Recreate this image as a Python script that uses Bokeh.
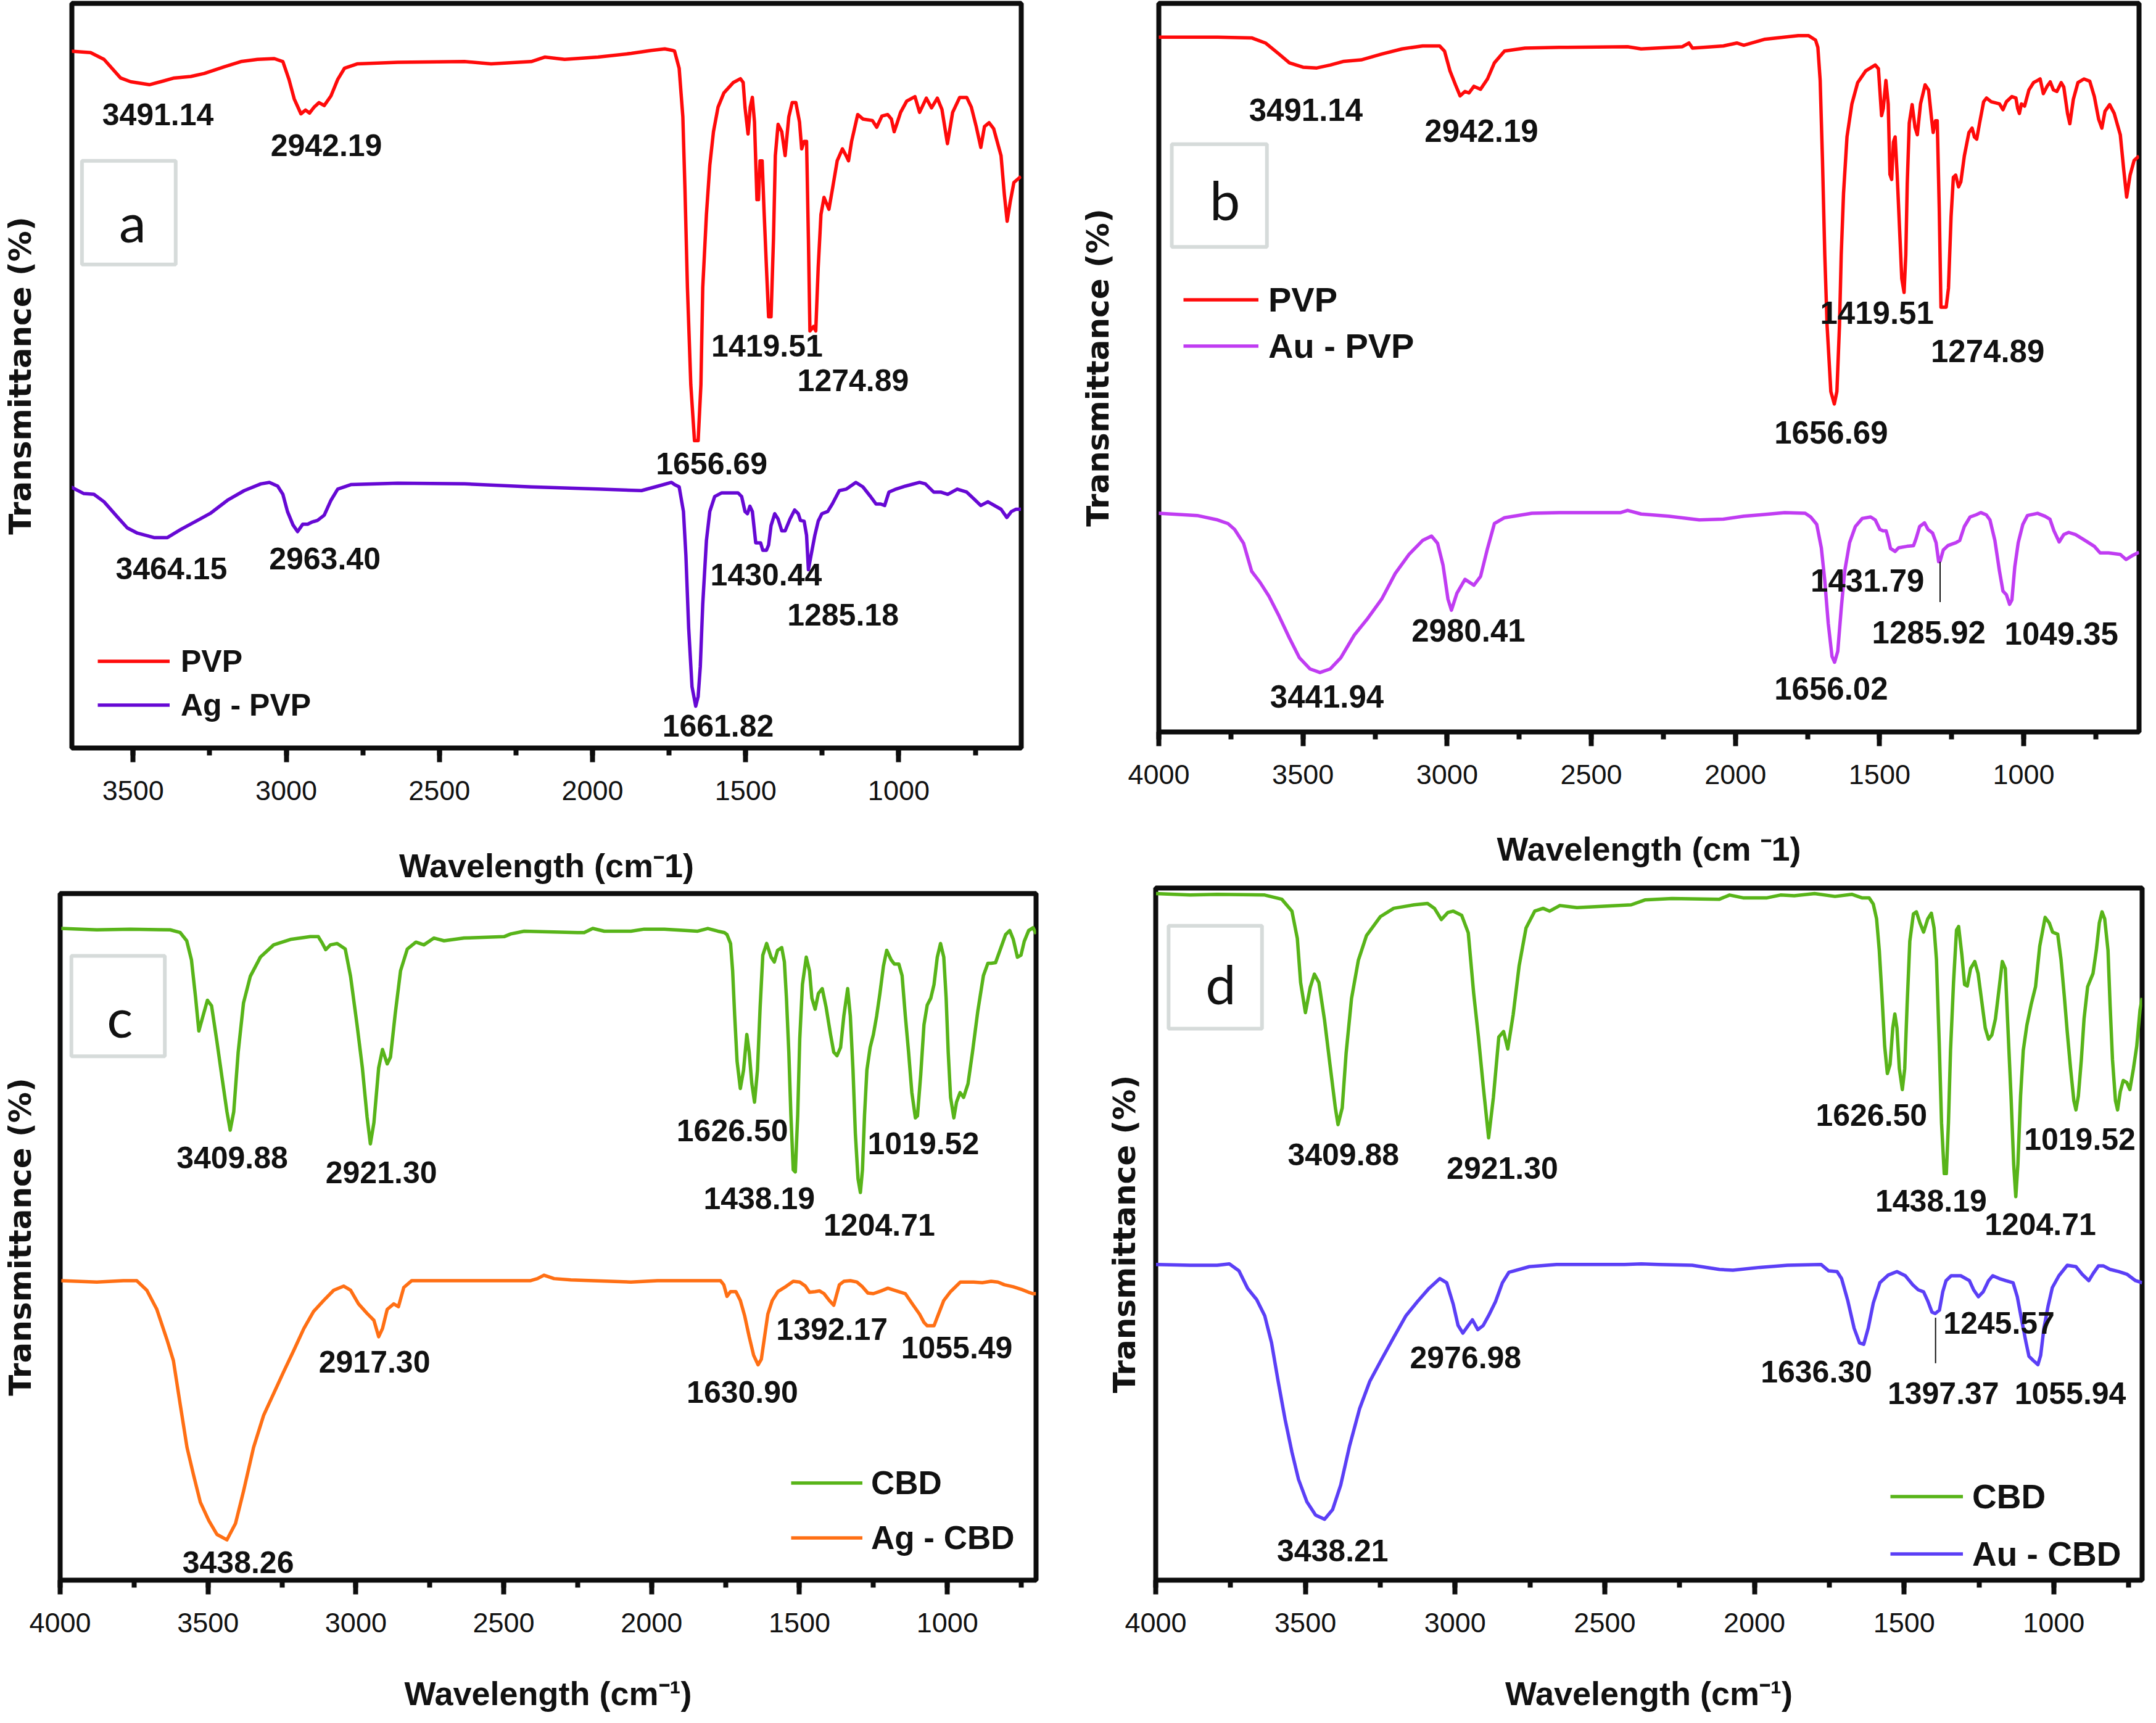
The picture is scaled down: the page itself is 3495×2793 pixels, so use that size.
from bokeh.plotting import figure
from bokeh.models import (Range1d, SingleIntervalTicker, FixedTicker, Legend,
                          LegendItem, ColumnDataSource)
from bokeh.layouts import column, row
from bokeh.embed import file_html
from bokeh.resources import INLINE
from bokeh.core.properties import value

# ---------------- data (wavenumber cm-1, transmittance a.u. in % of panel height) ----------------
PVP_A = [(3704,93.4),(3639,93.2),(3595,92.3),(3541,89.8),(3508,89.3),(3447,88.9),(3410,89.3),(3366,89.8),(3312,90.0),(3268,90.4),(3203,91.3),(3148,92.0),(3094,92.3),(3039,92.4),(3011,92.0),(2991,89.6),(2974,87.0),(2952,85.0),(2937,85.5),(2924,85.1),(2909,85.9),(2893,86.5),(2876,86.1),(2854,87.4),(2832,89.6),(2810,91.1),(2767,91.7),(2636,91.9),(2418,92.0),(2331,91.7),(2200,92.0),(2156,92.6),(2091,92.3),(1982,92.6),(1873,93.1),(1808,93.5),(1764,93.7),(1738,93.5),(1732,93.4),(1717,91.1),(1705,84.6),(1698,74.8),(1690,61.7),(1679,48.7),(1667,41.2),(1655,41.2),(1646,48.7),(1640,61.7),(1628,71.5),(1617,78.1),(1605,82.6),(1590,85.9),(1571,87.8),(1540,89.2),(1517,89.7),(1508,89.2),(1502,85.9),(1492,82.3),(1485,85.9),(1478,87.2),(1471,83.9),(1463,73.5),(1458,73.5),(1453,78.7),(1446,78.7),(1440,72.2),(1432,64.4),(1425,57.8),(1417,57.8),(1409,68.3),(1403,79.4),(1394,83.6),(1382,82.6),(1371,79.4),(1359,84.6),(1348,86.5),(1336,86.5),(1324,83.9),(1317,80.3),(1309,81.3),(1301,81.3),(1295,68.3),(1290,55.9),(1278,56.5),(1271,55.9),(1263,64.4),(1254,71.5),(1244,73.8),(1228,72.2),(1217,74.8),(1201,78.7),(1184,80.3),(1172,79.4),(1164,78.7),(1154,81.3),(1134,84.9),(1117,84.3),(1086,84.1),(1072,83.2),(1055,84.7),(1036,84.9),(1024,84.3),(1015,82.6),(1005,83.8),(994,85.2),(974,86.7),(947,87.3),(932,85.2),(910,87.1),(893,85.8),(874,87.1),(859,85.6),(841,81.0),(824,85.2),(801,87.2),(778,87.2),(763,85.9),(747,83.3),(732,80.5),(720,83.3),(705,83.8),(690,83.0),(666,79.4),(655,74.1),(646,70.6),(636,73.2),(624,75.8),(601,76.6)]

AG_PVP = [(3704,35.0),(3661,34.1),(3628,34.0),(3595,33.0),(3552,31.0),(3519,29.5),(3486,28.8),(3432,28.2),(3388,28.2),(3344,29.3),(3290,30.5),(3246,31.5),(3192,33.2),(3137,34.5),(3083,35.4),(3055,35.6),(3028,35.1),(3011,34.0),(2996,31.7),(2978,29.9),(2963,29.0),(2946,30.0),(2930,30.0),(2915,30.3),(2898,30.5),(2876,31.2),(2854,33.2),(2832,34.7),(2789,35.3),(2636,35.5),(2418,35.4),(2200,35.0),(1982,34.7),(1840,34.5),(1786,35.1),(1742,35.6),(1732,35.3),(1717,35.0),(1703,31.7),(1695,25.8),(1686,16.1),(1675,8.2),(1663,5.6),(1655,6.9),(1648,10.9),(1640,19.3),(1628,27.8),(1617,31.7),(1601,33.7),(1578,34.2),(1525,34.2),(1513,33.7),(1502,31.7),(1494,31.4),(1486,32.4),(1478,31.7),(1467,27.5),(1459,27.5),(1451,27.5),(1444,26.5),(1432,26.5),(1425,27.2),(1417,29.8),(1405,31.4),(1394,30.7),(1382,29.1),(1371,29.1),(1355,30.7),(1340,31.9),(1328,31.4),(1321,30.5),(1309,30.4),(1301,28.5),(1295,23.9),(1286,25.9),(1274,28.5),(1263,30.4),(1251,31.4),(1232,31.7),(1217,32.7),(1194,34.5),(1171,34.7),(1140,35.6),(1117,35.0),(1094,33.8),(1074,32.7),(1059,32.7),(1046,32.5),(1032,34.3),(1009,34.7),(978,35.1),(932,35.6),(913,35.4),(886,34.3),(863,34.3),(840,34.0),(809,34.7),(778,34.3),(755,33.4),(732,32.5),(709,33.0),(666,32.0),(647,30.9),(632,31.7),(617,32.0),(601,32.0)]

PVP_B = [(4002,94.7),(3796,94.7),(3678,94.6),(3630,93.9),(3583,92.4),(3547,91.2),(3500,90.6),(3452,90.5),(3405,90.9),(3358,91.4),(3298,91.6),(3227,92.4),(3156,93.1),(3085,93.5),(3026,93.5),(3009,92.8),(2990,90.1),(2971,88.2),(2955,86.7),(2938,87.3),(2924,87.1),(2907,88.0),(2884,87.6),(2860,89.0),(2836,91.2),(2801,92.8),(2730,93.2),(2611,93.3),(2374,93.4),(2327,93.1),(2184,93.4),(2161,93.9),(2149,93.2),(2042,93.5),(1995,93.9),(1971,93.6),(1900,94.4),(1782,94.9),(1746,94.9),(1722,94.3),(1714,93.3),(1706,88.8),(1698,77.9),(1690,65.0),(1682,55.4),(1669,46.4),(1657,44.7),(1648,46.4),(1639,55.4),(1633,65.0),(1625,73.4),(1613,81.1),(1596,85.6),(1576,88.5),(1548,90.1),(1515,90.9),(1504,90.4),(1499,87.5),(1493,84.0),(1487,85.0),(1478,88.8),(1470,85.6),(1464,76.0),(1458,75.3),(1452,80.4),(1446,81.1),(1439,76.0),(1431,68.9),(1423,61.8),(1415,59.9),(1409,65.0),(1404,74.7),(1397,83.0),(1387,85.5),(1377,82.4),(1369,81.4),(1358,85.6),(1342,88.2),(1330,87.5),(1320,83.7),(1314,81.7),(1306,83.3),(1300,83.3),(1293,71.4),(1287,57.9),(1277,57.9),(1269,57.9),(1261,60.5),(1252,70.2),(1244,75.6),(1236,75.9),(1226,74.3),(1218,75.0),(1206,78.5),(1190,81.7),(1179,82.3),(1171,81.1),(1163,80.8),(1153,83.0),(1139,85.9),(1129,86.4),(1113,85.9),(1084,85.6),(1072,84.8),(1060,85.9),(1041,86.6),(1027,86.4),(1021,85.0),(1015,84.3),(1008,85.6),(997,85.3),(982,87.5),(966,88.5),(943,89.0),(932,87.0),(919,88.0),(908,88.6),(897,87.5),(885,87.3),(870,88.5),(861,87.9),(848,84.3),(840,82.9),(828,86.2),(812,88.5),(791,89.0),(771,88.7),(755,86.6),(740,83.5),(729,82.3),(718,84.6),(702,85.5),(686,84.3),(665,81.4),(653,76.6),(643,72.9),(631,75.9),(617,77.9),(600,78.5)]

AU_PVP = [(4002,29.8),(3867,29.5),(3796,28.9),(3760,28.4),(3737,27.6),(3706,25.7),(3678,21.9),(3649,20.4),(3618,18.5),(3583,15.8),(3547,12.8),(3512,10.1),(3476,8.6),(3441,8.1),(3405,8.6),(3369,10.1),(3322,13.2),(3275,15.5),(3227,18.1),(3180,21.6),(3132,24.2),(3085,26.1),(3054,26.7),(3033,25.7),(3014,22.7),(2997,18.1),(2985,16.6),(2966,18.9),(2938,20.8),(2907,20.0),(2884,21.2),(2860,25.0),(2836,28.4),(2801,29.2),(2706,29.8),(2611,29.9),(2398,29.9),(2374,30.2),(2327,29.7),(2232,29.4),(2125,28.9),(2042,29.0),(1971,29.4),(1912,29.6),(1829,29.9),(1758,29.8),(1739,29.3),(1718,28.3),(1702,25.1),(1690,20.6),(1678,14.8),(1665,10.3),(1656,9.5),(1645,11.0),(1633,16.8),(1621,21.9),(1604,25.8),(1584,28.0),(1560,29.1),(1531,29.3),(1515,28.9),(1499,27.6),(1487,27.4),(1477,27.4),(1470,26.4),(1462,25.0),(1446,24.6),(1434,25.1),(1405,25.3),(1382,25.4),(1373,26.4),(1361,28.0),(1344,28.5),(1332,27.6),(1316,27.1),(1304,25.8),(1295,23.2),(1290,23.3),(1279,24.8),(1263,25.4),(1235,25.8),(1222,26.1),(1206,28.0),(1186,29.3),(1165,29.6),(1149,29.9),(1130,29.6),(1117,28.9),(1100,26.1),(1084,21.9),(1072,19.2),(1060,18.7),(1049,17.4),(1041,18.0),(1031,22.5),(1019,25.8),(1003,28.3),(987,29.5),(952,29.8),(926,29.4),(909,29.0),(895,27.4),(877,25.9),(861,26.9),(844,27.2),(820,26.9),(787,26.1),(755,25.3),(735,24.4),(706,24.4),(665,24.2),(645,23.5),(625,24.0),(600,24.5)]

CBD_C = [(3996,95.3),(3876,95.1),(3763,95.2),(3628,95.1),(3594,94.7),(3572,93.5),(3556,90.7),(3542,85.2),(3531,80.3),(3515,82.8),(3502,84.8),(3488,84.0),(3470,78.8),(3452,73.3),(3436,68.5),(3425,65.8),(3413,68.5),(3398,77.2),(3380,84.4),(3357,88.3),(3323,91.1),(3278,92.9),(3221,93.7),(3154,94.1),(3127,94.1),(3113,93.1),(3102,92.2),(3086,92.9),(3063,93.1),(3036,92.3),(3018,88.3),(2996,81.2),(2978,74.9),(2962,67.7),(2951,63.8),(2939,66.9),(2923,74.9),(2910,77.6),(2894,75.5),(2883,76.5),(2867,82.8),(2849,89.1),(2826,92.3),(2797,93.3),(2770,92.9),(2736,93.9),(2702,93.5),(2634,93.9),(2499,94.1),(2476,94.5),(2431,94.9),(2251,94.7),(2228,94.7),(2199,95.3),(2160,94.9),(2070,94.9),(2025,95.2),(1957,95.2),(1844,94.9),(1810,95.3),(1776,94.9),(1754,94.7),(1745,94.4),(1733,93.1),(1726,89.1),(1719,82.5),(1711,75.9),(1700,71.9),(1689,74.6),(1678,79.8),(1670,77.2),(1661,72.6),(1652,69.9),(1642,74.6),(1633,83.8),(1624,91.4),(1611,93.1),(1596,91.1),(1585,90.4),(1574,92.1),(1560,92.5),(1551,90.4),(1544,85.1),(1536,77.2),(1529,68.0),(1521,60.0),(1514,59.7),(1506,68.0),(1499,79.2),(1490,87.1),(1477,91.1),(1466,89.1),(1458,85.1),(1447,83.5),(1436,85.8),(1423,86.5),(1410,83.8),(1395,79.8),(1384,77.2),(1373,76.7),(1361,77.9),(1350,82.5),(1337,86.5),(1328,82.5),(1319,74.6),(1311,65.3),(1302,58.7),(1294,56.7),(1287,60.0),(1280,68.0),(1272,74.6),(1261,77.9),(1250,79.8),(1239,82.5),(1228,85.8),(1216,89.8),(1205,92.1),(1190,90.7),(1179,90.1),(1164,90.1),(1153,88.4),(1142,82.5),(1131,77.2),(1120,71.3),(1108,67.6),(1101,67.9),(1090,73.9),(1079,81.2),(1068,84.1),(1056,85.1),(1045,87.1),(1034,91.1),(1023,93.1),(1012,91.1),(1004,85.1),(997,77.2),(989,70.6),(978,67.6),(969,69.9),(957,71.3),(945,70.6),(930,72.6),(915,77.2),(897,83.2),(878,88.4),(863,90.2),(852,90.2),(837,90.3),(822,92.1),(803,94.4),(789,95.0),(777,93.7),(763,91.1),(751,91.4),(740,93.4),(725,95.0),(710,95.4),(700,94.5)]

AG_CBD = [(3996,43.8),(3876,43.6),(3786,43.8),(3741,43.8),(3707,42.4),(3673,39.6),(3639,35.2),(3617,32.1),(3594,25.7),(3571,19.4),(3549,15.4),(3526,11.4),(3497,8.7),(3470,6.7),(3436,5.9),(3407,8.3),(3380,13.0),(3346,19.4),(3312,24.1),(3278,27.3),(3244,30.5),(3210,33.6),(3176,36.8),(3143,39.3),(3109,40.9),(3075,42.4),(3041,43.0),(3018,42.4),(2991,40.4),(2962,39.0),(2939,38.0),(2923,35.6),(2910,36.8),(2894,39.6),(2872,40.4),(2856,40.0),(2838,42.8),(2811,43.8),(2634,43.8),(2409,43.8),(2386,44.1),(2364,44.6),(2330,44.1),(2273,43.9),(2070,43.6),(1980,43.8),(1776,43.8),(1767,43.8),(1756,43.2),(1745,41.5),(1733,42.2),(1715,42.2),(1700,40.9),(1685,38.6),(1670,35.6),(1655,32.9),(1640,31.5),(1629,32.3),(1618,35.6),(1607,38.9),(1592,40.9),(1573,42.2),(1544,43.0),(1521,43.7),(1499,43.6),(1480,43.0),(1466,42.1),(1447,42.2),(1432,42.3),(1417,41.9),(1399,40.9),(1384,40.2),(1376,41.5),(1365,43.2),(1350,43.7),(1328,43.8),(1306,43.6),(1287,42.9),(1269,42.0),(1250,41.9),(1224,42.3),(1201,42.7),(1172,42.3),(1142,41.9),(1120,40.5),(1094,38.9),(1079,37.7),(1068,37.2),(1045,37.2),(1030,38.9),(1012,40.9),(989,42.2),(956,43.6),(911,43.6),(882,43.5),(852,43.7),(829,43.6),(807,43.2),(777,42.9),(748,42.5),(725,42.1),(710,41.9),(700,41.9)]

CBD_D = [(3999,98.1),(3885,97.9),(3795,98.0),(3636,97.9),(3579,97.3),(3545,95.6),(3527,91.7),(3516,85.4),(3500,81.1),(3484,84.7),(3470,86.6),(3455,85.4),(3436,80.0),(3418,73.7),(3400,67.5),(3391,65.1),(3377,67.5),(3364,75.3),(3346,83.1),(3323,88.6),(3296,92.1),(3250,94.8),(3205,96.0),(3137,96.5),(3092,96.7),(3069,96.0),(3046,94.4),(3024,95.4),(3006,95.6),(2978,95.0),(2956,92.5),(2938,83.9),(2922,77.6),(2906,70.6),(2888,63.2),(2872,69.0),(2854,77.6),(2838,78.4),(2824,75.9),(2806,80.8),(2786,87.8),(2763,93.2),(2734,95.6),(2706,96.0),(2684,95.6),(2650,96.4),(2593,96.1),(2412,96.5),(2366,97.2),(2276,97.4),(2117,97.3),(2083,97.9),(2038,97.5),(1958,97.5),(1913,97.9),(1867,97.8),(1799,98.1),(1731,97.7),(1675,98.0),(1641,97.5),(1617,97.5),(1603,96.6),(1592,94.5),(1583,90.0),(1574,83.5),(1565,76.3),(1556,72.4),(1547,73.7),(1538,78.9),(1531,80.9),(1524,78.9),(1516,73.1),(1506,70.1),(1498,73.1),(1490,82.2),(1481,91.3),(1469,95.2),(1459,95.5),(1447,93.9),(1435,92.6),(1421,94.5),(1409,95.3),(1400,93.2),(1392,88.7),(1383,77.0),(1375,65.3),(1366,58.1),(1359,58.1),(1352,65.3),(1345,75.7),(1335,85.4),(1325,92.9),(1318,93.4),(1307,89.3),(1298,85.1),(1289,84.9),(1278,87.4),(1264,88.4),(1253,86.7),(1241,82.8),(1229,78.9),(1218,77.3),(1207,77.9),(1195,80.2),(1182,84.8),(1172,88.4),(1162,87.4),(1154,79.6),(1143,69.2),(1134,59.4),(1127,54.8),(1120,59.4),(1111,69.2),(1102,75.7),(1090,79.3),(1076,82.2),(1061,84.8),(1047,90.6),(1029,94.7),(1015,93.9),(1004,92.6),(987,92.3),(976,88.7),(965,83.5),(955,78.3),(944,73.1),(933,68.5),(926,67.2),(918,69.2),(908,74.4),(899,80.2),(887,84.8),(869,86.7),(858,90.0),(848,93.9),(839,95.5),(830,94.5),(819,90.0),(812,82.2),(804,74.4),(794,68.5),(787,67.2),(778,69.8),(768,71.4),(756,71.1),(746,70.1),(734,73.1),(723,76.3),(712,81.5),(705,83.2)]

AU_CBD = [(3999,45.1),(3885,45.0),(3795,45.0),(3754,45.2),(3722,44.2),(3693,41.7),(3663,40.1),(3636,37.8),(3613,33.9),(3591,28.4),(3568,23.0),(3545,18.3),(3523,14.4),(3495,11.2),(3466,9.3),(3436,8.7),(3409,10.1),(3382,13.6),(3353,19.1),(3319,24.5),(3285,28.4),(3250,31.2),(3205,34.7),(3164,37.8),(3126,39.8),(3087,41.7),(3051,43.1),(3028,42.5),(3006,39.4),(2990,36.4),(2974,35.3),(2956,36.4),(2942,37.2),(2924,35.8),(2906,36.4),(2888,37.8),(2865,39.8),(2842,42.5),(2820,44.0),(2752,44.8),(2661,45.1),(2434,45.1),(2378,45.2),(2321,45.1),(2208,45.0),(2117,44.4),(2072,44.3),(1981,44.7),(1890,45.0),(1777,45.1),(1752,44.2),(1724,44.1),(1709,43.1),(1688,39.9),(1667,36.0),(1649,33.9),(1635,33.7),(1620,36.0),(1603,39.6),(1581,42.5),(1553,43.6),(1524,44.1),(1496,43.5),(1471,42.2),(1453,41.5),(1435,41.2),(1421,39.9),(1407,38.3),(1396,38.1),(1382,38.6),(1371,41.2),(1360,42.8),(1343,43.5),(1311,43.5),(1282,42.8),(1268,41.5),(1252,40.5),(1236,41.2),(1218,42.8),(1204,43.5),(1182,43.1),(1161,42.8),(1136,42.5),(1122,40.5),(1108,37.3),(1093,34.0),(1083,32.0),(1069,31.4),(1053,30.8),(1044,32.1),(1033,36.0),(1019,39.2),(1005,41.8),(983,43.5),(955,45.0),(926,44.8),(905,43.7),(883,42.8),(869,43.8),(851,44.9),(834,44.9),(812,44.4),(784,44.1),(755,43.7),(727,42.8),(705,42.5)]

# peak annotations: (text, wavenumber, transmittance)
PEAKS_A = [("3491.14",3419,84.9),("2942.19",2869,80.8),("1419.51",1430,53.9),("1274.89",1149,49.3),("1656.69",1611,38.1),("3464.15",3375,24.1),("2963.40",2874,25.4),("1430.44",1433,23.2),("1285.18",1182,17.9),("1661.82",1590,3.0)]
PEAKS_B = [("3491.14",3490,84.8),("2942.19",2881,81.9),("1419.51",1509,57.1),("1274.89",1125,51.9),("1656.69",1668,40.8),("3441.94",3417,4.8),("2980.41",2926,13.8),("1431.79",1542,20.6),("1285.92",1329,13.6),("1049.35",869,13.4),("1656.02",1668,5.9)]
PEAKS_C = [("3409.88",3418,61.8),("2921.30",2914,59.6),("1626.50",1727,65.8),("1438.19",1636,55.8),("1204.71",1230,52.0),("1019.52",1081,63.9),("2917.30",2937,31.9),("1630.90",1693,27.5),("1392.17",1390,36.7),("1055.49",968,34.0),("3438.26",3398,2.6)]
PEAKS_D = [("3409.88",3373,60.8),("2921.30",2842,58.9),("1626.50",1609,66.5),("1438.19",1410,54.2),("1204.71",1045,50.9),("1019.52",913,63.0),("2976.98",2965,31.8),("1636.30",1793,29.8),("1245.57",1183,36.8),("1397.37",1369,26.7),("1055.94",945,26.7),("3438.21",3409,4.2)]

# leader lines (x, y_top, y_bottom)
LEADER_B = [(1290, 23.2, 17.7)]
LEADER_D = [(1395, 37.5, 31.0)]

# panel letter boxes: (letter, left, right, bottom, top, text_x, text_y)
TAG_A = ("a", 3667, 3361, 64.8, 78.7, 3502, 70.6)
TAG_B = ("b", 3955, 3625, 66.1, 80.1, 3771, 72.6)
TAG_C = ("c", 3962, 3646, 76.6, 91.3, 3798, 82.4)
TAG_D = ("d", 3957, 3645, 78.8, 93.5, 3783, 85.3)

RED = "#ff0a0a"
PURPLE = "#6608d4"
VIOLET = "#c03cf2"
GREEN = "#58b419"
ORANGE = "#ff6f14"
BLUE = "#5b3ff6"

YLABEL = "Transmittance (%)"


def panel(width, height, borders, xr, yr, xlabel, ystand, ybounds, xstand):
    left, right, top, bottom = borders
    p = figure(width=width, height=height, output_backend="svg", toolbar_location=None,
               x_range=Range1d(*xr), y_range=Range1d(*yr),
               min_border_left=left, min_border_right=right,
               min_border_top=top, min_border_bottom=bottom)
    p.grid.visible = False
    p.outline_line_color = "#0d0d0d"
    p.outline_line_width = 8
    p.border_fill_color = "white"
    p.background_fill_color = "white"
    xa = p.xaxis[0]
    xa.ticker = SingleIntervalTicker(interval=500, num_minor_ticks=2)
    xa.axis_line_color = None
    xa.major_tick_in = 0
    xa.major_tick_out = 23
    xa.minor_tick_in = 0
    xa.minor_tick_out = 12
    xa.major_tick_line_width = 8
    xa.minor_tick_line_width = 8
    xa.major_tick_line_color = "#0d0d0d"
    xa.minor_tick_line_color = "#0d0d0d"
    xa.major_label_text_font = "Liberation Sans"
    xa.major_label_text_font_size = "45px"
    xa.major_label_text_color = "#111111"
    xa.major_label_standoff = 30
    xa.axis_label = xlabel
    xa.axis_label_text_font = "Liberation Sans"
    xa.axis_label_text_font_style = "bold"
    xa.axis_label_text_font_size = "54px"
    xa.axis_label_text_color = "#111111"
    xa.axis_label_standoff = xstand
    ya = p.yaxis[0]
    ya.ticker = FixedTicker(ticks=[])
    ya.bounds = ybounds
    ya.axis_line_color = None
    ya.major_tick_out = 0
    ya.major_tick_in = 0
    ya.minor_tick_out = 0
    ya.minor_tick_in = 0
    ya.major_label_standoff = 0
    ya.major_label_text_font_size = "0px"
    ya.axis_label = YLABEL
    ya.axis_label_text_font = "DejaVu Sans"
    ya.axis_label_text_font_style = "bold"
    ya.axis_label_text_font_size = "50px"
    ya.axis_label_text_color = "#111111"
    ya.axis_label_standoff = ystand
    return p


def add_series(p, series, colors, names, leg_loc, leg_pitch, glyph_w, standoff, leg_font):
    items = []
    for data, color, name in zip(series, colors, names):
        x, y = zip(*data)
        r = p.line(list(x), list(y), line_color=color, line_width=5.5, line_join="round")
        items.append(LegendItem(label=name, renderers=[r]))
    leg = Legend(items=items, location=leg_loc, orientation="vertical",
                 glyph_width=glyph_w, glyph_height=leg_pitch, label_height=leg_pitch,
                 label_standoff=standoff, spacing=0, padding=0, margin=0,
                 border_line_color=None, background_fill_alpha=0,
                 label_text_font="Liberation Sans", label_text_font_style="bold",
                 label_text_font_size=leg_font, label_text_color="#111111")
    p.add_layout(leg)


def add_peaks(p, peaks, size="50px"):
    t, x, y = zip(*peaks)
    src = ColumnDataSource(dict(x=list(x), y=list(y), text=list(t)))
    p.text(x="x", y="y", text="text", source=src, text_font=value("Liberation Sans"),
           text_font_style="bold", text_font_size=size, text_align="center",
           text_baseline="middle", text_color="#111111")


def add_tag(p, tag):
    letter, l, r, b, t, tx, ty = tag
    p.quad(left=[l], right=[r], bottom=[b], top=[t], fill_color=None,
           line_color="#d6dbda", line_width=6)
    p.text(x=[tx], y=[ty], text=[letter], text_font=value("Lato"), text_font_size="88px",
           text_align="center", text_baseline="middle", text_color="#111111")


def add_leaders(p, leaders):
    x, y0, y1 = zip(*leaders)
    p.segment(x0=list(x), y0=list(y0), x1=list(x), y1=list(y1), line_color="#111111", line_width=2)


pa = panel(1740, 1435, (113, 85, 5, 220), (3700, 600), (0, 99.8),
           "Wavelength (cm\u207b1)", 55, (0, 93.8), 73)
add_series(pa, [PVP_A, AG_PVP], [RED, PURPLE], ["PVP", "Ag - PVP"], (42, 34), 71, 117, 18, "50px")
add_peaks(pa, PEAKS_A)
add_tag(pa, TAG_A)

pb = panel(1739, 1435, (138, 12, 5, 249), (4000, 600), (0, 99.3),
           "Wavelength (cm \u207b1)", 70, (0, 93.8), 72)
add_series(pb, [PVP_B, AU_PVP], [RED, VIOLET], ["PVP", "Au - PVP"], (40, 588), 75, 122, 16, "56px")
add_peaks(pb, PEAKS_B, "51px")
add_leaders(pb, LEADER_B)
add_tag(pb, TAG_B)

pc = panel(1740, 1342, (95, 61, 13, 214), (4000, 700), (0, 100.4),
           "Wavelength (cm\u207b\u00b9)", 36, (0, 91.0), 66)
add_series(pc, [CBD_C, AG_CBD], [GREEN, ORANGE], ["CBD", "Ag - CBD"], (1185, 24), 89, 116, 14, "53px")
add_peaks(pc, PEAKS_C)
add_tag(pc, TAG_C)

pd_ = panel(1739, 1342, (133, 7, 4, 214), (4000, 705), (0, 98.9),
            "Wavelength (cm\u207b\u00b9)", 22, (0, 90.4), 66)
add_series(pd_, [CBD_D, AU_CBD], [GREEN, BLUE], ["CBD", "Au - CBD"], (1191, -4), 93, 118, 15, "55px")
add_peaks(pd_, PEAKS_D)
add_leaders(pd_, LEADER_D)
add_tag(pd_, TAG_D)

layout = column(row(column(pa), column(pb)), row(column(pc), column(pd_)))

open("out.html", "w").write(file_html(layout, INLINE))
